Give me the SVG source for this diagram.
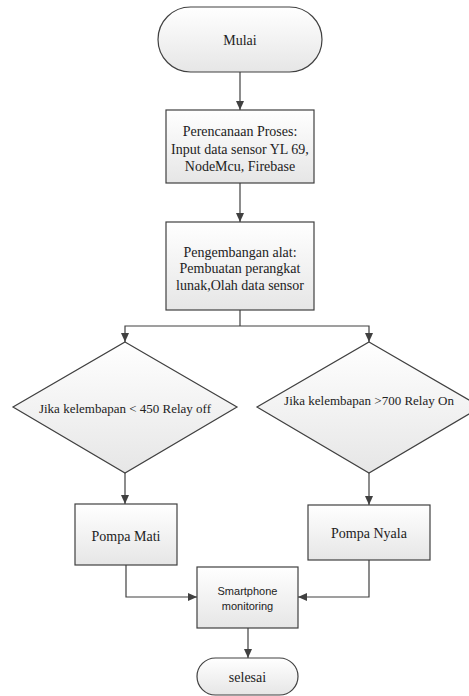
<svg xmlns="http://www.w3.org/2000/svg" width="469" height="696" viewBox="0 0 469 696">
<defs>
<linearGradient id="g" x1="0" y1="0" x2="0" y2="1">
<stop offset="0" stop-color="#ffffff"/>
<stop offset="1" stop-color="#e6e6e6"/>
</linearGradient>
<marker id="arr" markerWidth="10" markerHeight="10" refX="9" refY="5" orient="auto" markerUnits="userSpaceOnUse">
<path d="M0,1 L9,5 L0,9 Z" fill="#404040"/>
</marker>
<style>
.s{fill:url(#g);stroke:#404040;stroke-width:1.2}
.t{font-family:"Liberation Serif","Times New Roman",serif;font-size:14px;fill:#222;text-anchor:middle}
.d{font-family:"Liberation Serif","Times New Roman",serif;font-size:13px;fill:#222;text-anchor:middle}
.c{font-family:"Liberation Sans",Arial,sans-serif;font-size:11px;fill:#222;text-anchor:middle}
.l{fill:none;stroke:#404040;stroke-width:1.2;marker-end:url(#arr)}
.n{fill:none;stroke:#404040;stroke-width:1.2}
</style>
</defs>
<rect width="469" height="696" fill="#ffffff"/>
<g id="connectors">
<path class="l" d="M240,72 V110"/>
<path class="l" d="M240,183 V222"/>
<path class="n" d="M240,310 V326"/>
<path class="l" d="M240,326 H125 V342"/>
<path class="l" d="M240,326 H369 V342"/>
<path class="l" d="M125,473 V504"/>
<path class="l" d="M369,473 V505"/>
<path class="l" d="M126,565 V597 H197"/>
<path class="l" d="M369,560 V597 H298"/>
<path class="l" d="M248,628 V658"/>
</g>
<g id="mulai">
<rect class="s" x="158" y="7" width="164" height="65" rx="32.5"/>
<text class="t" x="240" y="45">Mulai</text>
</g>
<g id="perencanaan">
<rect class="s" x="166" y="110" width="148" height="73"/>
<text class="t" x="240" y="136">Perencanaan Proses:</text>
<text class="t" x="240" y="154">Input data sensor YL 69,</text>
<text class="t" x="240" y="171">NodeMcu, Firebase</text>
</g>
<g id="pengembangan">
<rect class="s" x="166" y="222" width="148" height="88"/>
<text class="t" x="240" y="257">Pengembangan alat:</text>
<text class="t" x="240" y="273">Pembuatan perangkat</text>
<text class="t" x="240" y="290">lunak,Olah data sensor</text>
</g>
<g id="kondisi1">
<polygon class="s" points="125,342 237,407 125,473 13,407"/>
<text class="d" x="125" y="413">Jika kelembapan &lt; 450 Relay off</text>
</g>
<g id="kondisi2">
<polygon class="s" points="369,342 481,407 369,473 257,407"/>
<text class="d" x="369" y="405">Jika kelembapan &gt;700 Relay On</text>
</g>
<g id="pompamati">
<rect class="s" x="75" y="504" width="102" height="61"/>
<text class="t" x="126" y="541">Pompa Mati</text>
</g>
<g id="pompanyala">
<rect class="s" x="308" y="505" width="122" height="55"/>
<text class="t" x="369" y="538">Pompa Nyala</text>
</g>
<g id="smartphone">
<rect class="s" x="197" y="567" width="101" height="61"/>
<text class="c" x="247.5" y="595">Smartphone</text>
<text class="c" x="247.5" y="610">monitoring</text>
</g>
<g id="selesai">
<rect class="s" x="197" y="658" width="101" height="37" rx="18.5"/>
<text class="t" x="247.5" y="682">selesai</text>
</g>
</svg>
